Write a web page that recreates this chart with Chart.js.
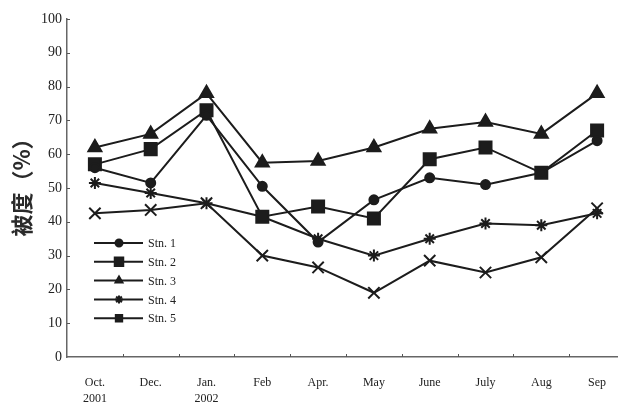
<!DOCTYPE html>
<html>
<head>
<meta charset="utf-8">
<script src="https://cdn.jsdelivr.net/npm/chart.js@4/dist/chart.umd.min.js"></script>
<style>
  html, body { margin: 0; padding: 0; background: #fff; overflow: hidden; }
  #wrap { width: 618px; height: 405px; overflow: hidden; }
  canvas { display: block; }
</style>
</head>
<body>
<div id="wrap"><canvas id="c" width="640" height="405"></canvas></div>
<script>
// Survey months (two-line labels where the year changes)
const categories = [['Oct.', '2001'], 'Dec.', ['Jan.', '2002'], 'Feb', 'Apr.', 'May', 'June', 'July', 'Aug', 'Sep'];

// Cover (%) at each station
const stn1 = [56, 51.5, 71.5, 50.5, 34, 46.5, 53, 51, 54.5, 64];
const stn2 = [57, 61.5, 73, 41.5, 44.5, 41, 58.5, 62, 54.5, 67];
const stn3 = [62, 66, 78, 57.5, 58, 62, 67.5, 69.5, 66, 78];
const stn4 = [51.5, 48.5, 45.5, 41.5, 35, 30, 35, 39.5, 39, 42.5];
const stn5 = [42.5, 43.5, 45.5, 30, 26.5, 19, 28.5, 25, 29.5, 44];

const seriesNames = ['Stn. 1', 'Stn. 2', 'Stn. 3', 'Stn. 4', 'Stn. 5'];
const yTickValues = [0, 10, 20, 30, 40, 50, 60, 70, 80, 90, 100];
const yTitle = '被度（%）';

const INK = '#1c1c1c';
const SERIF = "'Liberation Serif', 'Times New Roman', serif";

function series(label, data, style, radius) {
  return {
    label, data,
    borderColor: INK,
    backgroundColor: INK,
    borderWidth: 2,
    pointStyle: style,
    pointRadius: radius,
    pointBorderWidth: 2,
    pointBackgroundColor: INK,
    pointBorderColor: INK,
    tension: 0,
    fill: false
  };
}

// Small inward tick marks on both axes
const axisTicks = {
  id: 'axisTicks',
  afterDatasetsDraw(chart) {
    const { ctx, chartArea, scales } = chart;
    const x = scales.x, y = scales.y;
    ctx.save();
    ctx.strokeStyle = '#555';
    ctx.lineWidth = 1;
    yTickValues.forEach(v => {
      if (v === 0) return;
      const py = Math.round(y.getPixelForValue(v)) + 0.5;
      ctx.beginPath();
      ctx.moveTo(chartArea.left, py);
      ctx.lineTo(chartArea.left + 3, py);
      ctx.stroke();
    });
    for (let i = 0; i < categories.length - 1; i++) {
      const px = Math.round((x.getPixelForValue(i) + x.getPixelForValue(i + 1)) / 2) + 0.5;
      ctx.beginPath();
      ctx.moveTo(px, chartArea.bottom);
      ctx.lineTo(px, chartArea.bottom - 3);
      ctx.stroke();
    }
    ctx.restore();
  }
};

// Rotated y-axis title beside the tick labels
const yAxisTitle = {
  id: 'yAxisTitle',
  afterDraw(chart) {
    const { ctx } = chart;
    ctx.save();
    ctx.translate(22, 182);
    ctx.rotate(-Math.PI / 2);
    ctx.fillStyle = '#2a2a2a';
    ctx.font = "bold 22px 'Noto Sans CJK SC', sans-serif";
    ctx.textAlign = 'center';
    ctx.textBaseline = 'middle';
    ctx.fillText(yTitle, 0, 0);
    ctx.restore();
  }
};

// Legend drawn inside the plot: short line with a marker, then the station name
const legendMarkers = ['circle', 'rect', 'triangle', 'star', 'rect'];
const legendSizes = [3.5, 6, 4, 4, 4.5];
const stationLegend = {
  id: 'stationLegend',
  afterDatasetsDraw(chart) {
    const { ctx } = chart;
    const x0 = 94, x1 = 143, xm = 119, xt = 148;
    const yStart = 243, step = 18.8;
    ctx.save();
    seriesNames.forEach((name, i) => {
      const yy = yStart + i * step;
      ctx.strokeStyle = INK;
      ctx.lineWidth = 2;
      ctx.beginPath();
      ctx.moveTo(x0, yy);
      ctx.lineTo(x1, yy);
      ctx.stroke();
      Chart.helpers.drawPoint(ctx, {
        pointStyle: legendMarkers[i],
        radius: legendSizes[i],
        borderWidth: 1.5,
        rotation: 0
      }, xm, yy);
      ctx.fillStyle = INK;
      ctx.fill();
      ctx.fillStyle = '#222';
      ctx.font = '12px ' + SERIF;
      ctx.textBaseline = 'middle';
      ctx.textAlign = 'left';
      ctx.fillText(name, xt, yy + 1);
    });
    ctx.restore();
  }
};

new Chart(document.getElementById('c'), {
  type: 'line',
  data: {
    labels: categories,
    datasets: [
      series(seriesNames[0], stn1, 'circle', 4.5),
      series(seriesNames[1], stn2, 'rect', 8.5),
      series(seriesNames[2], stn3, 'triangle', 7.5),
      series(seriesNames[3], stn4, 'star', 6),
      series(seriesNames[4], stn5, 'crossRot', 8)
    ]
  },
  options: {
    responsive: false,
    devicePixelRatio: 1,
    animation: false,
    layout: { padding: { left: 0, top: 19, right: 15, bottom: 0 } },
    plugins: {
      legend: { display: false },
      tooltip: { enabled: false }
    },
    scales: {
      x: {
        offset: true,
        grid: { display: false, drawTicks: false, tickLength: 0 },
        border: { display: true, color: '#666', width: 1.5 },
        ticks: {
          color: '#222',
          padding: 18,
          maxRotation: 0,
          autoSkip: false,
          font: { family: SERIF, size: 12, lineHeight: 1.33 }
        },
        afterFit(scale) { scale.height = 48; }
      },
      y: {
        min: 0, max: 100,
        grid: { display: false, drawTicks: false, tickLength: 0 },
        border: { display: true, color: '#666', width: 1.5 },
        afterBuildTicks(scale) { scale.ticks = yTickValues.map(v => ({ value: v })); },
        ticks: {
          color: '#222',
          padding: 5,
          font: { family: SERIF, size: 14 }
        },
        afterFit(scale) { scale.width = 67; }
      }
    }
  },
  plugins: [axisTicks, yAxisTitle, stationLegend]
});
</script>
</body>
</html>
